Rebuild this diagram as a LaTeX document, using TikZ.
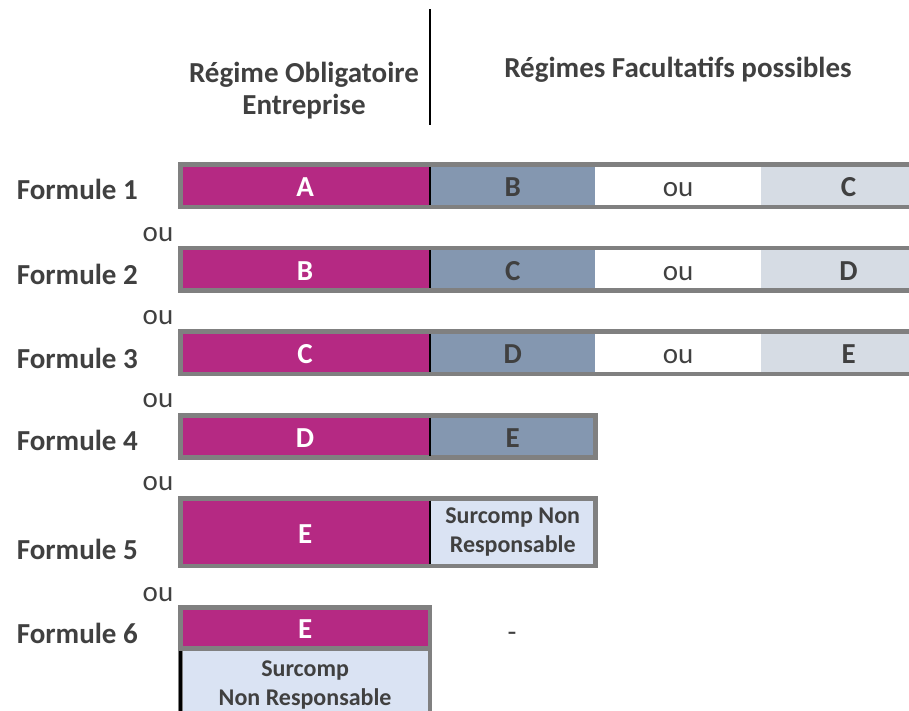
\documentclass[tikz,border=0pt]{standalone}
\usepackage{fontspec}
\setmainfont{Carlito}
\usepackage{xcolor}
\usepackage{tikz}
\usetikzlibrary{positioning}
\definecolor{oblmagenta}{RGB}{181,41,131}
\definecolor{facblue}{RGB}{132,151,176}
\definecolor{facgray}{RGB}{214,220,228}
\definecolor{surblue}{RGB}{218,227,243}
\definecolor{textgray}{RGB}{64,64,64}
\definecolor{framegray}{RGB}{128,128,128}
\tikzset{
  cell/.style={
    rectangle,
    inner sep=0pt,
    minimum height=42pt,
    align=center,
    text=textgray,
    text height=22pt,
    text depth=0pt,
    font=\bfseries\fontsize{29}{32}\selectfont
  },
  oblig/.style={cell, fill=oblmagenta, text=white, minimum width=249.2pt},
  facul/.style={cell, fill=facblue, minimum width=165.2pt},
  choix/.style={cell, fill=white, minimum width=165pt, font=\fontsize{29}{32}\selectfont},
  facul2/.style={cell, fill=facgray, minimum width=175pt},
  surcomp/.style={
    rectangle,
    inner sep=0pt,
    align=center,
    fill=surblue,
    text=textgray,
    font=\bfseries\fontsize{24}{28.5}\selectfont
  },
  frame/.style={draw=framegray, line width=4.5pt},
  divider/.style={draw=black, line width=2.4pt},
  entete/.style={align=center, text=textgray, font=\bfseries\fontsize{29}{32}\selectfont},
  formule/.style={anchor=base east, inner xsep=0pt, text=textgray, font=\bfseries\fontsize{29}{32}\selectfont},
  ou/.style={anchor=base, text=textgray, font=\fontsize{29}{32}\selectfont}
}

\begin{document}
\begin{tikzpicture}[x=1pt, y=-1pt]
\useasboundingbox (0,0) rectangle (909,710);

% en-tetes
\node[entete] (hoblig) at (304,91) {Régime Obligatoire\\Entreprise};
\node[entete] (hfacul) at (678,70) {Régimes Facultatifs possibles};
\draw[line width=2pt] (429.5,9) -- (429.5,125);

% formule 1
\node[oblig, anchor=north west] (o1) at (180.3,164.5) {A};
\node[facul, right=0pt of o1] (b1) {B};
\node[choix, right=0pt of b1] (c1) {ou};
\node[facul2, right=0pt of c1] (g1) {C};
\draw[frame] (o1.north west) rectangle (g1.south east);
\draw[divider] ([yshift=-2.2pt]o1.north east) -- ([yshift=2.2pt]o1.south east);

% formule 2
\node[oblig, anchor=north west] (o2) at (180.3,248.1) {B};
\node[facul, right=0pt of o2] (b2) {C};
\node[choix, right=0pt of b2] (c2) {ou};
\node[facul2, right=0pt of c2] (g2) {D};
\draw[frame] (o2.north west) rectangle (g2.south east);
\draw[divider] ([yshift=-2.2pt]o2.north east) -- ([yshift=2.2pt]o2.south east);

% formule 3
\node[oblig, anchor=north west] (o3) at (180.3,331.7) {C};
\node[facul, right=0pt of o3] (b3) {D};
\node[choix, right=0pt of b3] (c3) {ou};
\node[facul2, right=0pt of c3] (g3) {E};
\draw[frame] (o3.north west) rectangle (g3.south east);
\draw[divider] ([yshift=-2.2pt]o3.north east) -- ([yshift=2.2pt]o3.south east);

% formule 4
\node[oblig, anchor=north west] (o4) at (180.3,415.3) {D};
\node[facul, right=0pt of o4] (b4) {E};
\draw[frame] (o4.north west) rectangle (b4.south east);
\draw[divider] ([yshift=-2.2pt]o4.north east) -- ([yshift=2.2pt]o4.south east);

% formule 5
\node[oblig, anchor=north west, minimum height=67.1pt] (o5) at (180.3,498.3) {E};
\node[surcomp, right=0pt of o5, minimum width=165.2pt, minimum height=67.1pt] (s5) {Surcomp Non\\Responsable};
\draw[frame] (o5.north west) rectangle (s5.south east);
\draw[divider] ([yshift=-2.2pt]o5.north east) -- ([yshift=2.2pt]o5.south east);

% formule 6
\node[oblig, anchor=north west, minimum height=40.9pt] (o6) at (180.3,607.3) {E};
\node[surcomp, below=0pt of o6, minimum width=249.2pt, minimum height=72pt] (s6) {Surcomp\\Non Responsable};
\draw[frame] (o6.north west) rectangle (s6.south east);
\draw[frame] (o6.south west) -- (o6.south east);
\draw[draw=black, line width=3.3pt] ([yshift=-2.4pt]s6.north west) -- (s6.south west);
\node[ou] (vide) at (512,641) {-};

% libelles
\node[formule] (f1) at (138,199) {Formule 1};
\node[formule] (f2) at (138,284) {Formule 2};
\node[formule] (f3) at (138,368) {Formule 3};
\node[formule] (f4) at (138,450) {Formule 4};
\node[formule] (f5) at (138,559) {Formule 5};
\node[formule] (f6) at (138,643) {Formule 6};
\node[ou] (ou12) at (158,241.5) {ou};
\node[ou] (ou23) at (158,324.5) {ou};
\node[ou] (ou34) at (158,407.5) {ou};
\node[ou] (ou45) at (158,490.5) {ou};
\node[ou] (ou56) at (158,601.5) {ou};
\end{tikzpicture}
\end{document}
